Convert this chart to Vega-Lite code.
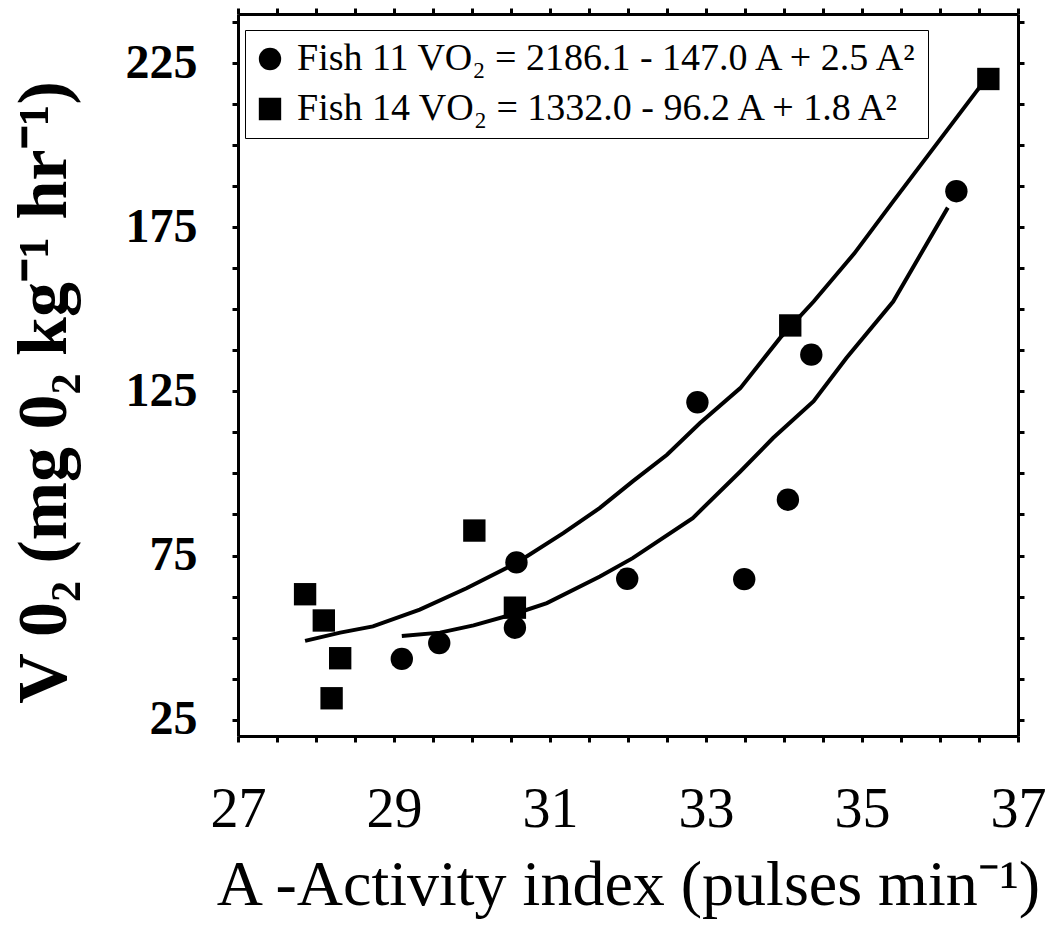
{
  "$schema": "https://vega.github.io/schema/vega-lite/v6.json",
  "width": 780,
  "height": 722,
  "autosize": "none",
  "padding": {"left": 238, "top": 14, "right": 40, "bottom": 209},
  "background": "white",
  "config": {"view": {"stroke": null}, "font": "Liberation Serif"},
  "datasets": {
    "points": [
      {"fish": "Fish 11", "A": 29.10, "VO2": 43.5},
      {"fish": "Fish 11", "A": 29.58, "VO2": 48.3},
      {"fish": "Fish 11", "A": 30.55, "VO2": 53.0},
      {"fish": "Fish 11", "A": 30.57, "VO2": 72.9},
      {"fish": "Fish 11", "A": 31.99, "VO2": 67.9},
      {"fish": "Fish 11", "A": 32.89, "VO2": 121.7},
      {"fish": "Fish 11", "A": 33.49, "VO2": 67.8},
      {"fish": "Fish 11", "A": 34.05, "VO2": 92.0},
      {"fish": "Fish 11", "A": 34.35, "VO2": 136.2},
      {"fish": "Fish 11", "A": 36.21, "VO2": 186.0},
      {"fish": "Fish 14", "A": 27.86, "VO2": 63.2},
      {"fish": "Fish 14", "A": 28.10, "VO2": 55.2},
      {"fish": "Fish 14", "A": 28.20, "VO2": 31.5},
      {"fish": "Fish 14", "A": 28.31, "VO2": 43.7},
      {"fish": "Fish 14", "A": 30.03, "VO2": 82.6},
      {"fish": "Fish 14", "A": 30.55, "VO2": 59.1},
      {"fish": "Fish 14", "A": 34.08, "VO2": 145.1},
      {"fish": "Fish 14", "A": 36.62, "VO2": 220.2}
    ],
    "curves": [
      {"fish": "Fish 14", "A": 27.86, "VO2": 49.0},
      {"fish": "Fish 14", "A": 28.31, "VO2": 51.5},
      {"fish": "Fish 14", "A": 28.73, "VO2": 53.4},
      {"fish": "Fish 14", "A": 29.33, "VO2": 58.5},
      {"fish": "Fish 14", "A": 29.93, "VO2": 65.0},
      {"fish": "Fish 14", "A": 30.57, "VO2": 72.7},
      {"fish": "Fish 14", "A": 31.17, "VO2": 81.8},
      {"fish": "Fish 14", "A": 31.64, "VO2": 89.5},
      {"fish": "Fish 14", "A": 32.06, "VO2": 97.6},
      {"fish": "Fish 14", "A": 32.50, "VO2": 105.7},
      {"fish": "Fish 14", "A": 32.92, "VO2": 115.3},
      {"fish": "Fish 14", "A": 33.44, "VO2": 126.0},
      {"fish": "Fish 14", "A": 33.95, "VO2": 141.3},
      {"fish": "Fish 14", "A": 34.38, "VO2": 152.4},
      {"fish": "Fish 14", "A": 34.90, "VO2": 167.0},
      {"fish": "Fish 14", "A": 35.40, "VO2": 182.9},
      {"fish": "Fish 14", "A": 36.47, "VO2": 216.5},
      {"fish": "Fish 14", "A": 36.55, "VO2": 219.0},
      {"fish": "Fish 11", "A": 29.10, "VO2": 50.5},
      {"fish": "Fish 11", "A": 29.59, "VO2": 51.5},
      {"fish": "Fish 11", "A": 30.02, "VO2": 53.7},
      {"fish": "Fish 11", "A": 30.57, "VO2": 57.4},
      {"fish": "Fish 11", "A": 30.96, "VO2": 60.5},
      {"fish": "Fish 11", "A": 31.64, "VO2": 68.6},
      {"fish": "Fish 11", "A": 32.06, "VO2": 74.2},
      {"fish": "Fish 11", "A": 32.83, "VO2": 86.4},
      {"fish": "Fish 11", "A": 33.44, "VO2": 100.6},
      {"fish": "Fish 11", "A": 33.86, "VO2": 110.8},
      {"fish": "Fish 11", "A": 34.38, "VO2": 122.0},
      {"fish": "Fish 11", "A": 34.80, "VO2": 135.2},
      {"fish": "Fish 11", "A": 35.40, "VO2": 152.4},
      {"fish": "Fish 11", "A": 36.10, "VO2": 181.0}
    ]
  },
  "layer": [
    {
      "data": {"name": "curves"},
      "mark": {"type": "line", "color": "black", "strokeWidth": 4},
      "encoding": {
        "x": {"field": "A", "type": "quantitative", "scale": {"domain": [27, 37], "nice": false, "zero": false},
          "axis": {"orient": "top", "values": [27,27.5,28,28.5,29,29.5,30,30.5,31,31.5,32,32.5,33,33.5,34,34.5,35,35.5,36,36.5,37], "labels": false, "title": null, "grid": false, "tickSize": 6, "tickWidth": 3, "tickColor": "black", "domainColor": "black", "domainWidth": 3}},
        "y": {"field": "VO2", "type": "quantitative", "scale": {"domain": [20, 240], "nice": false, "zero": false},
          "axis": {"orient": "right", "values": [25,37.5,50,62.5,75,87.5,100,112.5,125,137.5,150,162.5,175,187.5,200,212.5,225,237.5], "labels": false, "title": null, "grid": false, "tickSize": 6, "tickWidth": 3, "tickColor": "black", "domainColor": "black", "domainWidth": 3}},
        "detail": {"field": "fish"}
      }
    },
    {
      "data": {"name": "points"},
      "mark": {"type": "point", "filled": true, "color": "black", "size": 500, "opacity": 1},
      "encoding": {
        "x": {"field": "A", "type": "quantitative", "scale": {"domain": [27, 37], "nice": false, "zero": false},
          "axis": {"orient": "bottom", "values": [27,27.5,28,28.5,29,29.5,30,30.5,31,31.5,32,32.5,33,33.5,34,34.5,35,35.5,36,36.5,37], "format": ".0f", "labelExpr": "datum.value % 2 == 1 ? datum.label : ''", "labelOverlap": false, "labelFlush": false, "labelFontSize": 56, "labelColor": "black", "labelPadding": 40, "grid": false, "tickSize": 6, "tickWidth": 3, "tickColor": "black", "domainColor": "black", "domainWidth": 3,
            "title": "A -Activity index (pulses min⁻¹)", "titleFontSize": 64, "titleFontWeight": "normal", "titleColor": "black", "titleY": 149, "titleBaseline": "middle"}},
        "y": {"field": "VO2", "type": "quantitative", "scale": {"domain": [20, 240], "nice": false, "zero": false},
          "axis": {"orient": "left", "values": [25,37.5,50,62.5,75,87.5,100,112.5,125,137.5,150,162.5,175,187.5,200,212.5,225,237.5], "labelExpr": "(datum.value - 25) % 50 == 0 ? datum.label : ''", "labelOverlap": false, "labelFlush": false, "labelFontSize": 48, "labelFontWeight": "bold", "labelColor": "black", "labelPadding": 35, "grid": false, "tickSize": 6, "tickWidth": 3, "tickColor": "black", "domainColor": "black", "domainWidth": 3,
            "title": "V 0₂ (mg 0₂ kg⁻¹ hr⁻¹)", "titleFontSize": 70, "titleFontWeight": "bold", "titleColor": "black", "titleX": -194, "titleY": 378, "titleBaseline": "middle"}},
        "shape": {"field": "fish", "type": "nominal", "scale": {"domain": ["Fish 11", "Fish 14"], "range": ["circle", "square"]},
          "legend": {"orient": "none", "legendX": 7, "legendY": 16, "title": null,
            "labelExpr": "datum.label == 'Fish 11' ? 'Fish 11 VO₂ = 2186.1 - 147.0 A + 2.5 A²' : 'Fish 14 VO₂ = 1332.0 - 96.2 A + 1.8 A²'",
            "labelFontSize": 38, "labelColor": "black", "labelLimit": 0, "labelOffset": 8,
            "symbolSize": 500, "symbolFillColor": "black", "symbolStrokeColor": "black",
            "strokeColor": "black", "padding": 6, "rowPadding": 4, "clipHeight": 46}}
      }
    }
  ],
  "resolve": {"axis": {"x": "independent", "y": "independent"}}
}
